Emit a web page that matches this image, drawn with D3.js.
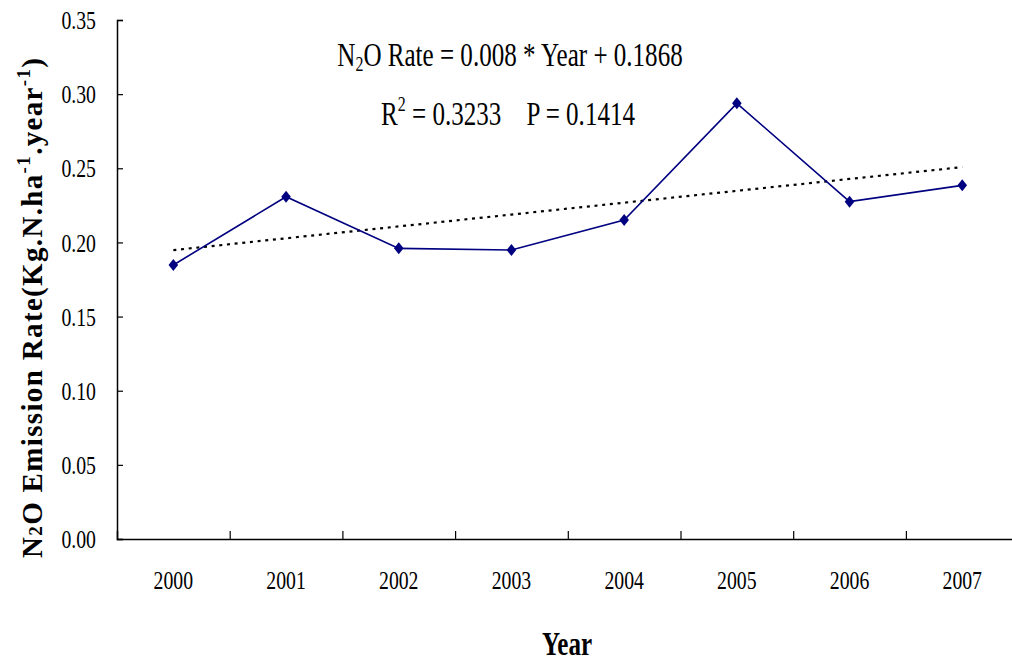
<!DOCTYPE html>
<html>
<head>
<meta charset="utf-8">
<script src="https://cdn.jsdelivr.net/npm/d3@7"></script>
<style>
  html, body { margin: 0; padding: 0; background: #fff; }
  svg { display: block; }
  text { font-family: "Liberation Serif", "Times New Roman", serif; fill: #000; }
</style>
</head>
<body>
<svg id="chart" width="1012" height="660"></svg>
<script>
// Annual N2O emission rate, 2000-2007
const years = ["2000", "2001", "2002", "2003", "2004", "2005", "2006", "2007"];
const emissionRate = [0.1848, 0.2308, 0.1960, 0.1949, 0.2151, 0.2938, 0.2275, 0.2385];
const yTicks = [0, 0.05, 0.10, 0.15, 0.20, 0.25, 0.30, 0.35];

// Fitted linear trend: rate = slope * yearIndex + intercept (yearIndex = 1..8)
const trendSlope = 0.008;
const trendIntercept = 0.1868;
const trendValues = years.map((_, i) => trendSlope * (i + 1) + trendIntercept);

const svg = d3.select("#chart");
const plotLeft = 117, plotRight = 1018.6, plotTop = 20, plotBottom = 539;
const squeeze = 0.76; // narrow-set serif text

const x = d3.scaleBand().domain(years).range([plotLeft, plotRight]);
const xEdges = d3.scaleLinear().domain([0, years.length]).range([plotLeft, plotRight]);
const y = d3.scaleLinear().domain([0, 0.35]).range([plotBottom, plotTop]);

// Y axis with inward ticks
const yAxis = svg.append("g")
  .attr("transform", `translate(${plotLeft},0)`)
  .call(d3.axisLeft(y).tickValues(yTicks).tickSize(-6).tickFormat(d3.format(".2f")));
yAxis.select(".domain").attr("stroke", "#000").attr("stroke-width", 1.5);
yAxis.selectAll(".tick line").attr("stroke", "#000").attr("stroke-width", 1.2);
yAxis.selectAll(".tick text")
  .attr("x", null).attr("dy", "0.33em")
  .attr("transform", `translate(-21,0) scale(${squeeze},1)`)
  .attr("text-anchor", "end")
  .style("font-size", "26px")
  .style("font-family", "'Liberation Serif', serif");

// X axis: category boundary ticks pointing up
const xTickAxis = svg.append("g")
  .attr("transform", `translate(0,${plotBottom})`)
  .call(d3.axisBottom(xEdges).tickValues(d3.range(1, years.length)).tickSize(-8).tickFormat(""));
xTickAxis.select(".domain").attr("stroke", "#000").attr("stroke-width", 1.5);
xTickAxis.selectAll(".tick line").attr("stroke", "#000").attr("stroke-width", 1.2);

// X axis category labels
const xLabelAxis = svg.append("g")
  .attr("transform", `translate(0,${plotBottom})`)
  .call(d3.axisBottom(x).tickSize(0));
xLabelAxis.select(".domain").remove();
xLabelAxis.selectAll(".tick text")
  .attr("y", 50).attr("dy", null)
  .attr("transform", `scale(${squeeze},1)`)
  .style("font-size", "26px")
  .style("font-family", "'Liberation Serif', serif");

// Trend line (dotted)
const trendLine = d3.line()
  .x((d, i) => x(years[i]) + x.bandwidth() / 2)
  .y(d => y(d));
svg.append("path")
  .datum(trendValues)
  .attr("d", trendLine)
  .attr("fill", "none")
  .attr("stroke", "#000")
  .attr("stroke-width", 2.2)
  .attr("stroke-dasharray", "3,4.7");

// Observed series
const rateLine = d3.line()
  .x((d, i) => x(years[i]) + x.bandwidth() / 2)
  .y(d => y(d));
svg.append("path")
  .datum(emissionRate)
  .attr("d", rateLine)
  .attr("fill", "none")
  .attr("stroke", "#000080")
  .attr("stroke-width", 1.6);

// Diamond markers
svg.append("g").selectAll("path")
  .data(emissionRate)
  .join("path")
  .attr("transform", (d, i) => `translate(${x(years[i]) + x.bandwidth() / 2},${y(d)})`)
  .attr("d", "M0,-6L4.8,0L0,6L-4.8,0Z")
  .attr("fill", "#000080");

// Regression annotation
const eq1 = svg.append("text")
  .attr("transform", `translate(510,66) scale(${squeeze},1)`)
  .attr("text-anchor", "middle")
  .style("font-size", "33px");
eq1.append("tspan").text("N");
eq1.append("tspan").attr("dy", 5).style("font-size", "21px").text("2");
eq1.append("tspan").attr("dy", -5).text("O Rate = 0.008 * Year + 0.1868");

const eq2 = svg.append("text")
  .attr("transform", `translate(508,125) scale(${squeeze},1)`)
  .attr("text-anchor", "middle")
  .style("font-size", "33px")
  .style("white-space", "pre");
eq2.append("tspan").text("R");
eq2.append("tspan").attr("dy", -14).style("font-size", "21px").text("2");
eq2.append("tspan").attr("dy", 14).text(" = 0.3233    P = 0.1414");

// Axis titles
svg.append("text")
  .attr("transform", `translate(567,655) scale(${squeeze},1)`)
  .attr("text-anchor", "middle")
  .style("font-size", "33px")
  .style("font-weight", "bold")
  .text("Year");

const yTitle = svg.append("text")
  .attr("transform", "translate(42,308) rotate(-90)")
  .attr("text-anchor", "middle")
  .attr("textLength", 500)
  .attr("lengthAdjust", "spacing")
  .style("font-size", "29px")
  .style("font-weight", "bold");
yTitle.append("tspan").text("N");
yTitle.append("tspan").style("font-size", "19px").text("2");
yTitle.append("tspan").text("O Emission Rate(Kg.N.ha");
yTitle.append("tspan").attr("dy", -12).style("font-size", "19px").text("-1");
yTitle.append("tspan").attr("dy", 12).text(".year");
yTitle.append("tspan").attr("dy", -12).style("font-size", "19px").text("-1");
yTitle.append("tspan").attr("dy", 12).text(")");
</script>
</body>
</html>
